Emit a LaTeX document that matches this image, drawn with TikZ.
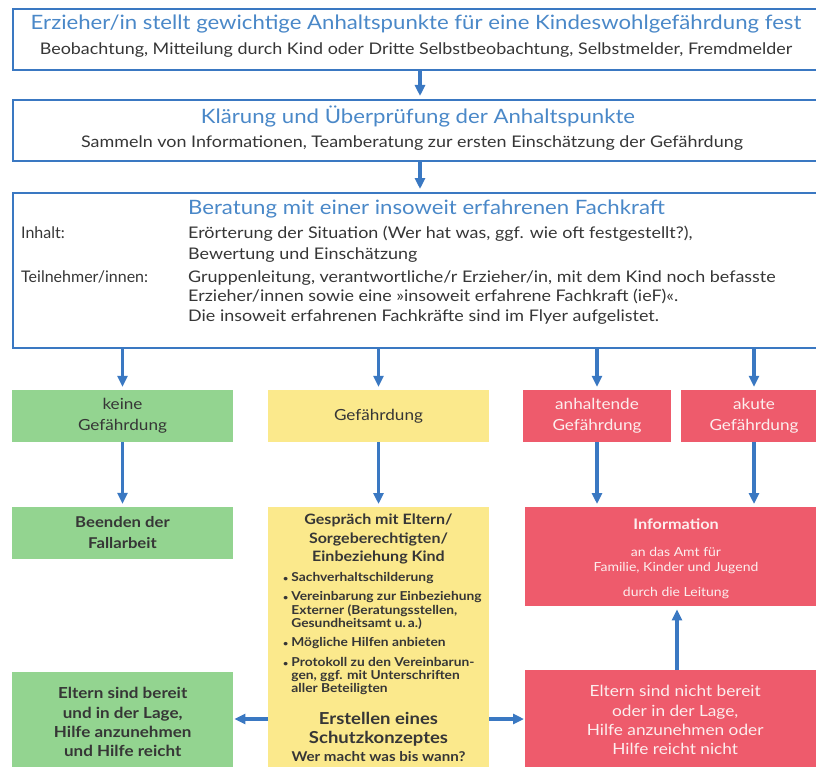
\documentclass[tikz,border=0pt]{standalone}
\usepackage{fontspec}
\setmainfont{Lato}[FakeStretch=1.12]
\newfontfamily\plainfont{Lato}
\usetikzlibrary{arrows.meta}
\definecolor{bl}{HTML}{3A78C2}
\definecolor{tblue}{HTML}{4A88C8}
\definecolor{gr}{HTML}{93D490}
\definecolor{ye}{HTML}{FBE98C}
\definecolor{rd}{HTML}{EE5B6C}
\definecolor{tx}{HTML}{363636}
\definecolor{rtx}{HTML}{FCEEEE}
\newcommand{\fs}[2]{\fontsize{#1bp}{#2bp}\selectfont}
\tikzset{
  frame/.style={draw=bl, line width=1.6bp, rectangle, inner sep=0pt},
  cbox/.style={rectangle, inner sep=0pt, align=center, text=tx},
  lbl/.style={inner sep=0pt, anchor=base west, text=tx, font=\fs{16}{19}},
  ttl/.style={inner sep=0pt, text=tblue, font=\fs{19.8}{22}},
  sub/.style={inner sep=0pt, text=tx, font=\fs{16}{19}},
  arr/.style={draw=bl, line width=3.2bp, -{Triangle[length=11bp,width=10bp]}, shorten >=3bp},
}
\begin{document}
\begin{tikzpicture}[x=1bp,y=-1bp]
\useasboundingbox (0,0) rectangle (816,767);
% top boxes
\node[frame, minimum width=830bp, minimum height=61bp, anchor=north west] (b1) at (12,8) {};
\node[ttl] (t1) at (416,24) {Erzieher/in stellt gewichtige Anhaltspunkte für eine Kindeswohlgefährdung fest};
\node[sub] (s1) at (416,50) {Beobachtung, Mitteilung durch Kind oder Dritte Selbstbeobachtung, Selbstmelder, Fremdmelder};

\node[frame, minimum width=830bp, minimum height=61bp, anchor=north west] (b2) at (12,99) {};
\node[ttl] (t2) at (418,117) {Klärung und Überprüfung der Anhaltspunkte};
\node[sub] (s2) at (412,143) {Sammeln von Informationen, Teamberatung zur ersten Einschätzung der Gefährdung};

\node[frame, minimum width=830bp, minimum height=155bp, anchor=north west] (b3) at (12,192) {};
\node[ttl, anchor=base west] (t3) at (188,214) {Beratung mit einer insoweit erfahrenen Fachkraft};
\node[lbl, font=\plainfont\fs{16}{19}] (i1) at (21,238) {Inhalt:};
\node[lbl] (i2) at (188,238) {Erörterung der Situation (Wer hat was, ggf. wie oft festgestellt?),};
\node[lbl] (i3) at (188,259) {Bewertung und Einschätzung};
\node[lbl, font=\plainfont\fs{16}{19}] (p1) at (21,282) {Teilnehmer/innen:};
\node[lbl] (p2) at (188,282) {Gruppenleitung, verantwortliche/r Erzieher/in, mit dem Kind noch befasste};
\node[lbl] (p3) at (188,301.5) {Erzieher/innen sowie eine »insoweit erfahrene Fachkraft (ieF)«.};
\node[lbl] (p4) at (188,321) {Die insoweit erfahrenen Fachkräfte sind im Flyer aufgelistet.};

% row 4
\node[cbox, fill=gr, minimum width=221bp, minimum height=52bp, font=\fs{15.3}{21}] (g1) at (122.5,416) {keine\\Gefährdung};
\node[cbox, fill=ye, minimum width=221bp, minimum height=52bp, font=\fs{15.3}{21}] (y1) at (378.5,416) {Gefährdung};
\node[cbox, fill=rd, text=rtx, minimum width=148bp, minimum height=52bp, font=\fs{15.3}{21}] (r1) at (597,416) {anhaltende\\Gefährdung};
\node[cbox, fill=rd, text=rtx, minimum width=146bp, minimum height=52bp, font=\fs{15.3}{21}] (r2) at (754,416) {akute\\Gefährdung};

% row 5
\node[cbox, fill=gr, minimum width=221bp, minimum height=52bp, font=\bfseries\fs{14.9}{21}] (g2) at (122.5,533) {Beenden der\\Fallarbeit};
\node[cbox, fill=ye, minimum width=221bp, minimum height=270bp, anchor=north] (y2) at (378.5,507) {};
\node[cbox, font=\bfseries\fs{14.3}{18.5}, anchor=north] (y2a) at (378.5,514) {Gespräch mit Eltern/\\Sorgeberechtigten/\\Einbeziehung Kind};
\node[inner sep=0pt, anchor=north west, text=tx, font=\bfseries\fs{12.3}{12.5}] (y2b) at (283,572) {%
\begin{tabular}{@{}l@{\hspace{3bp}}l@{}}
{\fs{8}{8}•} & Sachverhaltschilderung\\[6.5bp]
{\fs{8}{8}•} & Vereinbarung zur Einbeziehung\\
 & Externer (Beratungsstellen,\\
 & Gesundheitsamt u.\,a.)\\[6.5bp]
{\fs{8}{8}•} & Mögliche Hilfen anbieten\\[6.5bp]
{\fs{8}{8}•} & Protokoll zu den Vereinbarun-\\
 & gen, ggf. mit Unterschriften\\
 & aller Beteiligten
\end{tabular}};
\node[cbox, font=\bfseries\fs{16.5}{19}, anchor=north] (y2c) at (378.5,712) {Erstellen eines\\Schutzkonzeptes};
\node[cbox, font=\bfseries\fs{13.5}{15}, anchor=base] (y2d) at (378.5,761) {Wer macht was bis wann?};

\node[cbox, fill=rd, minimum width=300bp, minimum height=99bp, anchor=north west] (r3) at (525,507) {};
\node[cbox, text=rtx, font=\bfseries\fs{14.5}{16}, anchor=base] (r3a) at (676,529) {Information};
\node[cbox, text=rtx, font=\fs{12.5}{15.5}, anchor=base] (r3b) at (676,556) {an das Amt für};
\node[cbox, text=rtx, font=\fs{12.5}{15.5}, anchor=base] (r3c) at (676,571.5) {Familie, Kinder und Jugend};
\node[cbox, text=rtx, font=\fs{12.5}{15.5}, anchor=base] (r3d) at (676,596) {durch die Leitung};

% row 6
\node[cbox, fill=gr, minimum width=221bp, minimum height=100bp, anchor=north west, font=\bfseries\fs{15.2}{19.3}] (g3) at (12,672) {Eltern sind bereit\\und in der Lage,\\Hilfe anzunehmen\\und Hilfe reicht};
\node[cbox, fill=rd, text=rtx, minimum width=300bp, minimum height=100bp, anchor=north west, font=\fs{15.4}{19.3}] (r4) at (525,670) {Eltern sind nicht bereit\\oder in der Lage,\\Hilfe anzunehmen oder\\Hilfe reicht nicht};

% arrows
\coordinate (ax) at (420,0);
\draw[arr] (b1.south -| ax) -- (b2.north -| ax);
\draw[arr] (b2.south -| ax) -- (b3.north -| ax);
\draw[arr] (b3.south -| g1) -- (g1.north);
\draw[arr] (b3.south -| y1) -- (y1.north);
\draw[arr] (b3.south -| r1) -- (r1.north);
\draw[arr] (b3.south -| r2) -- (r2.north);
\draw[arr] (g1) -- (g2);
\draw[arr] (y1.south) -- (y1.south |- y2.north);
\draw[arr] (r1.south) -- (r1.south |- r3.north);
\draw[arr] (r2.south) -- (r2.south |- r3.north);
\coordinate (up) at (677,0);
\draw[arr] (r4.north -| up) -- (r3.south -| up);
\coordinate (lr) at (0,719);
\draw[arr, shorten >=1bp] (y2.west |- lr) -- (g3.east |- lr);
\draw[arr, shorten >=1bp] (y2.east |- lr) -- (r4.west |- lr);
\end{tikzpicture}
\end{document}
